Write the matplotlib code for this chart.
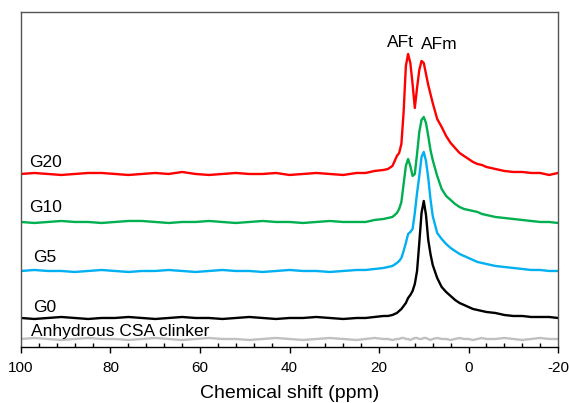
import numpy as np
from matplotlib import pyplot as plt
from matplotlib.ticker import MultipleLocator

plt.rcParams['font.family'] = ['Liberation Sans', 'DejaVu Sans']
plt.rcParams['axes.unicode_minus'] = False

# chemical shift sampling (ppm), coarse on the flat part, fine around the peaks
shift = [100, 97, 94, 91, 88, 85, 82, 79, 76, 73, 70, 67, 64, 61, 58, 55, 52,
         49, 46, 43, 40, 37, 34, 31, 28, 25,
         23, 21, 19, 18, 17, 16,
         15.5, 15, 14.5, 14, 13.5, 13, 12.5, 12, 11.5, 11, 10.5, 10, 9.5, 9, 8.5, 8,
         7, 6, 5, 4, 3, 2, 1, 0, -1, -2, -3, -4,
         -6, -8, -10, -12, -14, -16, -18, -20]

# intensities (arbitrary units)
g20 = [0, 1, 0, -1, 0, 1, 1, 0, -1, 0, 1, 0, 2, 0, -1, 0, 1, 0, 0, 1, -1, 0, 1, 0, -1, 1,
       1, 3, 4, 5, 8, 18,
       21, 30, 62, 108, 120, 111, 90, 66, 86, 104, 113, 111, 100, 89, 80, 71,
       55, 47, 38, 31, 26, 21, 18, 15, 12, 10, 9, 7,
       5, 3, 2, 2, 1, 1, -1, 1]
g10 = [0, -1, 0, 1, 0, 0, -1, 0, 1, 1, 0, -1, 0, 0, 1, 0, -1, 0, 1, 0, 0, -1, 0, 1, 0, 0,
       0, 2, 3, 4, 5, 9,
       13, 20, 38, 56, 63, 56, 46, 48, 68, 90, 102, 105, 99, 86, 72, 62,
       46, 33, 26, 22, 18, 15, 13, 12, 11, 10, 8, 7,
       5, 4, 3, 2, 1, 0, 0, -1]
g5 = [0, 1, 0, 0, -1, 0, 1, 0, -1, 0, 0, 1, 0, -1, 0, 1, 0, 0, -1, 0, 1, 0, 0, -1, 0, 1,
      1, 2, 3, 4, 5, 8,
      10, 13, 20, 28, 37, 39, 42, 58, 78, 95, 114, 119, 110, 93, 72, 55,
      38, 32, 27, 23, 20, 17, 15, 13, 11, 9, 8, 7,
      5, 4, 3, 2, 1, 1, 0, 0]
g0 = [0, -1, 0, 1, 0, -1, 0, 0, 1, 0, -1, 0, 1, 0, 0, -1, 0, 1, 0, -1, 0, 0, 1, 0, -1, 0,
      0, 1, 2, 2, 3, 5,
      7, 9, 12, 15, 20, 23, 27, 34, 47, 75, 105, 117, 103, 78, 64, 53,
      40, 31, 26, 22, 18, 15, 13, 11, 9, 8, 7, 6,
      5, 3, 2, 2, 1, 1, 1, 0]
clinker = [0, 1, 0, -1, 0, 1, 0, 0, -1, 0, 1, 0, -1, 0, 1, 0, 0, -1, 0, 1, 0, -1, 0, 1, 0, -1,
           0, 1, 0, 0, -1, 0,
           0, 1, 1, 0, 0, -1, 0, 1, 1, 0, 0, 1, 1, 0, -1, 0,
           1, 0, 0, -1, 0, 1, 0, 0, -1, 0, 1, 0,
           0, 1, 0, -1, 0, 1, 0, 0]

names = ['Anhydrous CSA clinker', 'G0', 'G5', 'G10', 'G20']
spectra = [clinker, g0, g5, g10, g20]
offsets = [8, 29, 76, 125, 173]
colors = ['#c0c0c0', 'black', '#00b0f0', '#00b050', '#ff0000']

fig = plt.figure(figsize=(5.69, 4.03), dpi=100)
ax = fig.add_axes([0.0369, 0.139, 0.9438, 0.8313])

for spec, off, c in zip(spectra, offsets, colors):
    ax.plot(shift, np.array(spec) + off, color=c, lw=1.7, solid_joinstyle='round')

# sample labels
lab_x = [97.8, 97.3, 97.3, 98.2, 98.2]
lab_y = [10.5, 35.3, 85.3, 135.3, 180.3]
for name, x, y in zip(names, lab_x, lab_y):
    ax.text(x, y, name, fontsize=12.5, ha='left', va='baseline')

ax.text(15.2, 300.3, 'AFt', fontsize=12.5, ha='center', va='baseline')
ax.text(6.6, 297.7, 'AFm', fontsize=12.5, ha='center', va='baseline')

ax.set_xlim(100, -20)
ax.set_ylim(0, 335)
ax.set_yticks([])
ax.xaxis.set_major_locator(MultipleLocator(20))
ax.xaxis.set_minor_locator(MultipleLocator(4))
ax.tick_params(axis='x', which='major', direction='out', length=4, width=1,
               labelsize=11, pad=6)
ax.tick_params(axis='x', which='minor', direction='in', length=3, width=1)
ax.set_xlabel('Chemical shift (ppm)', fontsize=14, labelpad=7)

for s in ['left', 'top', 'right']:
    ax.spines[s].set_color('#555555')
    ax.spines[s].set_linewidth(1.0)
ax.spines['bottom'].set_linewidth(1.0)

fig.savefig('out.png', dpi=100)
